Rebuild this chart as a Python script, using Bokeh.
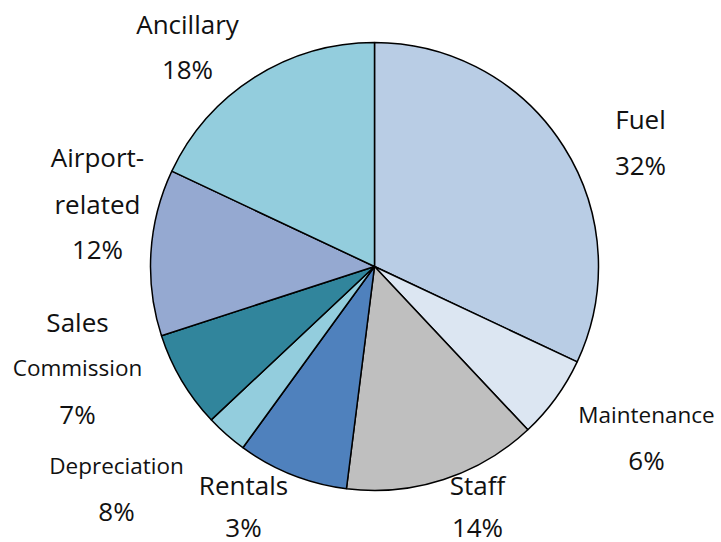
import math
from bokeh.plotting import figure
from bokeh.models import Range1d, ColumnDataSource
from bokeh.core.properties import value
from bokeh.embed import file_html
from bokeh.resources import INLINE

# ---- data ----
categories = ["Fuel", "Maintenance", "Staff", "Depreciation", "Rentals",
              "Sales Commission", "Airport-related", "Ancillary"]
shares = [32, 6, 14, 8, 3, 7, 12, 18]
colors = ["#B9CDE5", "#DCE6F2", "#BFBFBF", "#4F81BD", "#93CDDD",
          "#31859C", "#95A9D1", "#93CDDD"]

# label lines (name lines then percent) with layout: center x, baselines, font size of name
label_layout = [
    (["Fuel"], 640, [127, 173], 26),
    (["Maintenance"], 646, [423, 468], 22.5),
    (["Staff"], 477, [493, 535], 26),
    (["Depreciation"], 116, [474, 519], 22.5),
    (["Rentals"], 243, [493, 535], 26),
    (["Sales", "Commission"], 77, [330, 376, 422], 26),
    (["Airport-", "related"], 97, [165, 212, 257], 26),
    (["Ancillary"], 187, [32, 77], 26),
]
TEXT_SHIFT = -9

W, H = 721, 542
p = figure(width=W, height=H, output_backend="svg", toolbar_location=None,
           x_range=Range1d(0, W), y_range=Range1d(0, H), min_border=0)
p.axis.visible = False
p.grid.visible = False
p.outline_line_color = None
p.background_fill_color = "white"

def to_data(ix, iy):
    return ix, H - iy

cx, cy = to_data(374, 266)
R = 224

total = sum(shares)
starts, ends = [], []
acc = 0.0
for s in shares:
    a0 = math.pi / 2 - 2 * math.pi * acc / total
    acc += s
    a1 = math.pi / 2 - 2 * math.pi * acc / total
    starts.append(a0)
    ends.append(a1)

src = ColumnDataSource(dict(start=starts, end=ends, color=colors, cat=categories))
p.wedge(x=cx, y=cy, radius=R, start_angle="start", end_angle="end",
        direction="clock", fill_color="color", line_color="black",
        line_width=1.5, source=src)

for (name_lines, x, ys, size), s in zip(label_layout, shares):
    texts = name_lines + [f"{s}%"]
    for t, yb in zip(texts, ys):
        fs = size
        if t == "Commission":
            fs = 22.5
        if t.endswith("%"):
            fs = 26
        dx, dy = to_data(x, yb + TEXT_SHIFT)
        p.text(x=[dx], y=[dy], text=[t], text_align="center",
               text_baseline="alphabetic", text_font=value("Open Sans"),
               text_font_size=f"{fs}px", text_color="#111111")

open("out.html", "w").write(file_html(p, INLINE))
